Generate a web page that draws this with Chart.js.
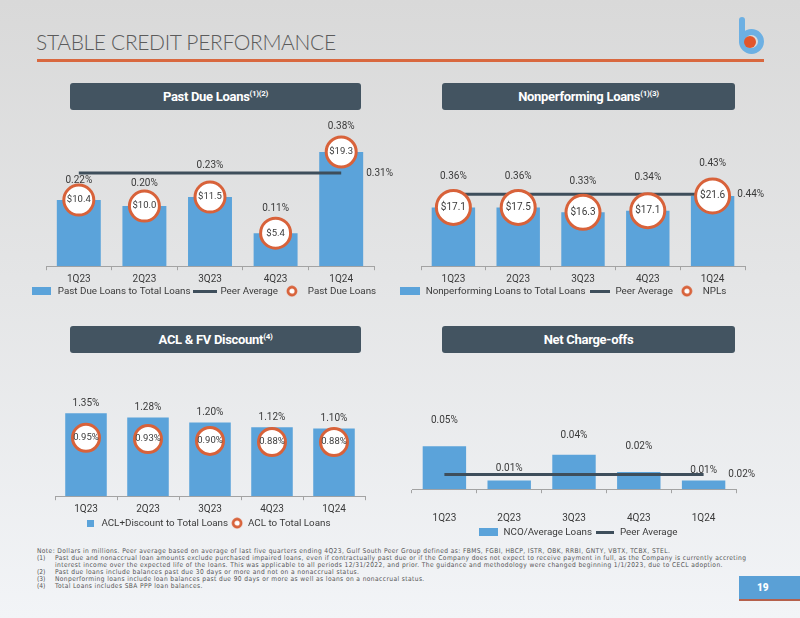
<!DOCTYPE html>
<html>
<head>
<meta charset="utf-8">
<script src="https://cdn.jsdelivr.net/npm/chart.js@4.4.1/dist/chart.umd.min.js"></script>
<style>
  html, body { margin: 0; padding: 0; }
  body {
    width: 800px; height: 618px; overflow: hidden; position: relative;
    background: linear-gradient(to bottom, #d9d9d9 0%, #e4e5e6 45%, #f2f4f7 100%);
    font-family: Roboto, 'Liberation Sans', sans-serif;
  }
  .title {
    position: absolute; left: 36px; top: 29px;
    font-family: Lato, 'Open Sans', sans-serif; font-weight: 300;
    font-size: 21px; color: #5b5b5b; letter-spacing: -0.35px;
  }
  .rule { position: absolute; left: 37px; top: 59px; width: 727px; height: 3px; background: #d9683f; }
  .logo-stem { position: absolute; left: 739px; top: 17px; width: 6px; height: 27px; border-radius: 3px; background: #6db0e3; }
  .logo-bowl { position: absolute; left: 739px; top: 29px; width: 25px; height: 25px; box-sizing: border-box;
    border: 6px solid #6db0e3; border-radius: 50%; }
  .logo-dot { position: absolute; left: 744px; top: 36px; width: 12px; height: 12px; border-radius: 50%; background: #e2562c; }
  .head {
    position: absolute; height: 27px; background: #435461; border-radius: 3px;
    color: #fff; font-weight: bold; font-size: 13px; letter-spacing: -0.3px;
    text-align: center; line-height: 27px;
  }
  .head sup { font-size: 8px; position: relative; top: -5px; vertical-align: baseline; line-height: 0; }
  canvas { position: absolute; }
  .notes {
    position: absolute; left: 37px; top: 548px; width: 740px;
    font-family: 'Liberation Sans Narrow', 'DejaVu Sans Condensed', sans-serif;
    font-size: 6.6px; line-height: 7px; letter-spacing: 0.4px; color: #555; white-space: nowrap;
  }
  .notes span { display: inline-block; width: 18px; letter-spacing: 0; }
  .page { position: absolute; left: 739px; top: 576px; width: 61px; height: 23px; background: #5aa0d6;
    border-bottom: 2px solid #b5604c; color: #fff; font-weight: bold; font-size: 10px; line-height: 23px; }
  .page b { position: absolute; left: 18px; }
</style>
</head>
<body>
<div class="title">STABLE CREDIT PERFORMANCE</div>
<div class="rule"></div>
<div class="logo-stem"></div><div class="logo-bowl"></div><div class="logo-dot"></div>

<div class="head" style="left:70px; top:83px; width:291px;">Past Due Loans<sup>(1)(2)</sup></div>
<div class="head" style="left:442px; top:83px; width:293px;">Nonperforming Loans<sup>(1)(3)</sup></div>
<div class="head" style="left:70px; top:326px; width:291px;">ACL &amp; FV Discount<sup>(4)</sup></div>
<div class="head" style="left:442px; top:326px; width:293px;">Net Charge-offs</div>

<canvas id="chart-pastdue" width="387" height="194" style="left:10px; top:112px;"></canvas>
<canvas id="chart-npl" width="405" height="194" style="left:360px; top:112px;"></canvas>
<canvas id="chart-acl" width="375" height="182" style="left:20px; top:356px;"></canvas>
<canvas id="chart-nco" width="356" height="191" style="left:400px; top:356px;"></canvas>

<div class="notes">
  <div>Note: Dollars in millions. Peer average based on average of last five quarters ending 4Q23, Gulf South Peer Group defined as: FBMS, FGBI, HBCP, ISTR, OBK, RRBI, GNTY, VBTX, TCBX, STEL.</div>
  <div><span>(1)</span>Past due and nonaccrual loan amounts exclude purchased impaired loans, even if contractually past due or if the Company does not expect to receive payment in full, as the Company is currently accreting</div>
  <div><span></span>interest income over the expected life of the loans. This was applicable to all periods 12/31/2022, and prior. The guidance and methodology were changed beginning 1/1/2023, due to CECL adoption.</div>
  <div><span>(2)</span>Past due loans include balances past due 30 days or more and not on a nonaccrual status.</div>
  <div><span>(3)</span>Nonperforming loans include loan balances past due 90 days or more as well as loans on a nonaccrual status.</div>
  <div><span>(4)</span>Total Loans includes SBA PPP loan balances.</div>
</div>
<div class="page"><b>19</b></div>

<script>
const quarters = ['1Q23', '2Q23', '3Q23', '4Q23', '1Q24'];

const pastDueRatio = [0.22, 0.20, 0.23, 0.11, 0.38];
const pastDueAmount = [10.4, 10.0, 11.5, 5.4, 19.3];
const pastDuePeer = 0.31;

const nplRatio = [0.36, 0.36, 0.33, 0.34, 0.43];
const nplAmount = [17.1, 17.5, 16.3, 17.1, 21.6];
const nplPeer = 0.44;

const aclDiscountRatio = [1.35, 1.28, 1.20, 1.12, 1.10];
const aclRatio = [0.95, 0.93, 0.90, 0.88, 0.88];

const ncoRatio = [0.05, 0.01, 0.04, 0.02, 0.01];
const ncoPeer = 0.017;

const BLUE = '#5ba3da';
const SLATE = '#3e4e5b';
const ORANGE = '#d8623a';
const INK = '#3a3a3a';
const AXIS = '#a3a3a3';

Chart.defaults.font.family = 'Roboto, "Liberation Sans", sans-serif';
Chart.defaults.font.size = 10;
Chart.defaults.color = INK;

// Iconos pequenos para la leyenda.
function rectIcon(w, h) {
  const c = document.createElement('canvas');
  c.width = w; c.height = h;
  const g = c.getContext('2d');
  g.fillStyle = BLUE;
  g.fillRect(0, 0, w, h);
  return c;
}

function lineIcon(w) {
  const c = document.createElement('canvas');
  c.width = w; c.height = 3;
  const g = c.getContext('2d');
  g.fillStyle = SLATE;
  g.fillRect(0, 0, w, 3);
  return c;
}

function ringIcon() {
  const c = document.createElement('canvas');
  c.width = 12; c.height = 12;
  const g = c.getContext('2d');
  g.beginPath();
  g.arc(6, 6, 4, 0, Math.PI * 2);
  g.fillStyle = '#ffffff';
  g.fill();
  g.lineWidth = 2.8;
  g.strokeStyle = ORANGE;
  g.stroke();
  return c;
}

// Etiquetas: porcentaje sobre la barra, texto dentro del circulo, valor del peer.
const slideLabels = {
  id: 'slideLabels',
  afterDatasetsDraw(chart, args, opts) {
    const ctx = chart.ctx;
    const bars = chart.getDatasetMeta(0).data;
    const values = chart.data.datasets[0].data;

    ctx.save();
    ctx.font = '10px Roboto, "Liberation Sans", sans-serif';
    ctx.fillStyle = INK;
    ctx.textAlign = 'center';
    ctx.textBaseline = 'middle';

    bars.forEach((bar, i) => {
      const off = Array.isArray(opts.offsets) ? opts.offsets[i] : opts.offsets;
      ctx.fillText(values[i].toFixed(2) + '%', bar.x, bar.y - off);
    });

    if (opts.ringIndex !== undefined) {
      const pts = chart.getDatasetMeta(opts.ringIndex).data;
      ctx.font = (opts.ringFont || 10) + 'px Roboto, "Liberation Sans", sans-serif';
      pts.forEach((p, i) => ctx.fillText(opts.ringText[i], p.x, p.y));
    }

    if (opts.peerIndex !== undefined) {
      const pts = chart.getDatasetMeta(opts.peerIndex).data;
      const peerData = chart.data.datasets[opts.peerIndex].data;
      const lastPt = pts[pts.length - 1];
      const lastBar = bars[bars.length - 1];
      ctx.font = '10px Roboto, "Liberation Sans", sans-serif';
      ctx.textAlign = 'left';
      ctx.fillText(peerData[peerData.length - 1].toFixed(2) + '%', lastBar.x + lastBar.width / 2 + 3, lastPt.y);
    }

    ctx.restore();
  }
};

function barSet(label, data, icon) {
  return {
    type: 'bar', label: label, data: data, order: 3,
    backgroundColor: BLUE, borderWidth: 0,
    categoryPercentage: 1, barPercentage: 0.67,
    legendIcon: icon
  };
}

function peerSet(value, iconWidth) {
  return {
    type: 'line', label: 'Peer Average', data: quarters.map(() => value), order: 2,
    borderColor: SLATE, backgroundColor: SLATE, borderWidth: 3,
    pointRadius: 0, pointHoverRadius: 0, legendIcon: lineIcon(iconWidth)
  };
}

function ringSet(label, data, radius) {
  return {
    type: 'line', label: label, data: data, order: 1, showLine: false,
    pointStyle: 'circle', pointRadius: radius, pointBorderWidth: 3,
    pointBackgroundColor: '#ffffff', pointBorderColor: ORANGE,
    legendIcon: ringIcon()
  };
}

function makeChart(id, datasets, cfg) {
  const canvas = document.getElementById(id);
  return new Chart(canvas, {
    type: 'bar',
    data: { labels: quarters, datasets: datasets },
    plugins: [slideLabels],
    options: {
      responsive: false,
      animation: false,
      layout: { autoPadding: false, padding: { top: cfg.padTop, left: 0, right: 0, bottom: 0 } },
      plugins: {
        tooltip: { enabled: false },
        legend: {
          position: 'bottom',
          labels: {
            usePointStyle: true,
            pointStyleWidth: cfg.boxWidth,
            padding: 3,
            color: INK,
            font: { size: 9.8 },
            sort: (a, b) => a.datasetIndex - b.datasetIndex,
            generateLabels(chart) {
              const items = Chart.defaults.plugins.legend.labels.generateLabels(chart);
              items.forEach((it) => {
                it.pointStyle = chart.data.datasets[it.datasetIndex].legendIcon;
                it.lineWidth = 0;
              });
              return items;
            }
          }
        },
        slideLabels: cfg.labels
      },
      scales: {
        x: {
          grid: { display: true, drawOnChartArea: false, drawTicks: true, tickLength: 4, color: AXIS, offset: true },
          border: { display: true, color: AXIS, width: 1 },
          ticks: { padding: cfg.tickPad, color: INK, font: { size: 10 } },
          afterFit(s) { s.height = cfg.axisHeight; }
        },
        y: {
          min: 0, max: cfg.yMax,
          grid: { display: false }, border: { display: false },
          ticks: { display: false },
          afterFit(s) { s.width = cfg.left; }
        },
        y2: {
          position: 'right', min: 0, max: 1,
          grid: { display: false }, border: { display: false },
          ticks: { display: false },
          afterFit(s) { s.width = cfg.right; }
        }
      }
    }
  });
}

makeChart('chart-pastdue', [
  barSet('Past Due Loans to Total Loans', pastDueRatio, rectIcon(19, 8)),
  peerSet(pastDuePeer, 24),
  ringSet('Past Due Loans', pastDueRatio, 15)
], {
  padTop: 8, yMax: 0.4866, left: 36, right: 23, boxWidth: 22, tickPad: 3, axisHeight: 17,
  labels: {
    offsets: [20, 23, 32, 25, 26],
    ringIndex: 2, ringText: pastDueAmount.map((v) => '$' + v.toFixed(1)), ringFont: 9.5,
    peerIndex: 1
  }
});

makeChart('chart-npl', [
  barSet('Nonperforming Loans to Total Loans', nplRatio, rectIcon(20, 8)),
  peerSet(nplPeer, 20),
  ringSet('NPLs', nplRatio, 17)
], {
  padTop: 8, yMax: 0.895, left: 61, right: 20, boxWidth: 22, tickPad: 3, axisHeight: 17,
  labels: {
    offsets: [31, 31, 31, 33, 32],
    ringIndex: 2, ringText: nplAmount.map((v) => '$' + v.toFixed(1)),
    peerIndex: 1
  }
});

makeChart('chart-acl', [
  barSet('ACL+Discount to Total Loans', aclDiscountRatio, rectIcon(7, 7)),
  ringSet('ACL to Total Loans', aclRatio, 13.5)
], {
  padTop: 14, yMax: 2.053, left: 35, right: 30, boxWidth: 12, tickPad: 3, axisHeight: 19,
  labels: {
    offsets: 10,
    ringIndex: 1, ringText: aclRatio.map((v) => v.toFixed(2) + '%'), ringFont: 9.5
  }
});

makeChart('chart-nco', [
  barSet('NCO/Average Loans', ncoRatio, rectIcon(19, 8)),
  peerSet(ncoPeer, 18)
], {
  padTop: 14, yMax: 0.1388, left: 12, right: 20, boxWidth: 20, tickPad: 19, axisHeight: 35,
  labels: {
    offsets: [26, 12, 19, 26, 10],
    peerIndex: 1
  }
});
</script>
</body>
</html>
